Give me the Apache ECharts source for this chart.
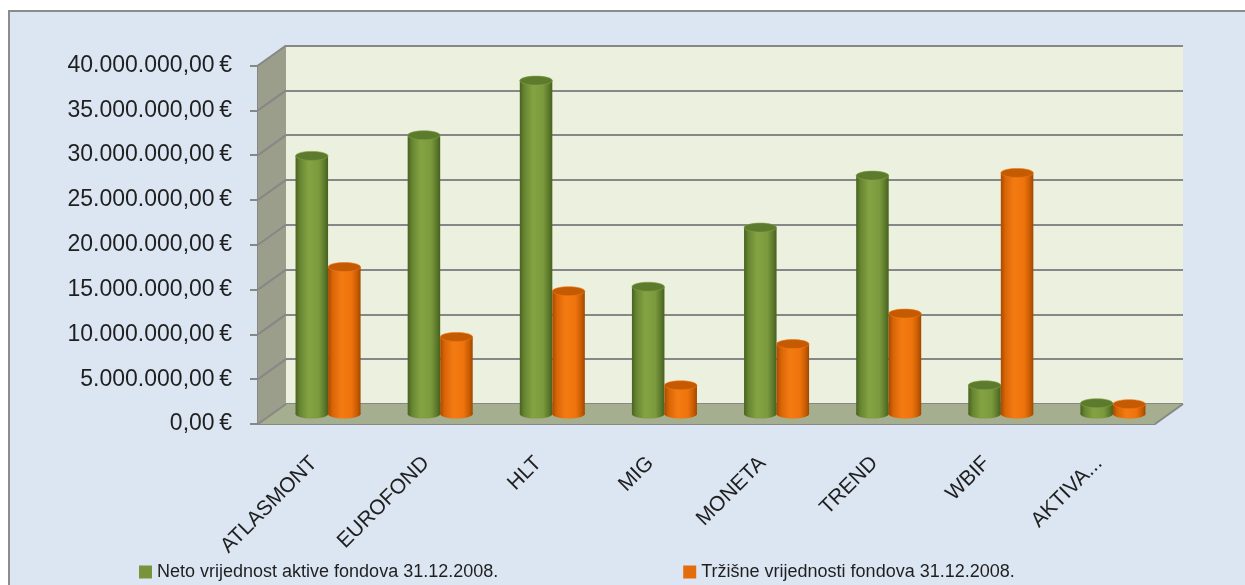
<!DOCTYPE html>
<html>
<head>
<meta charset="utf-8">
<script src="https://cdn.jsdelivr.net/npm/echarts@6/dist/echarts.min.js"></script>
<style>
  html, body { margin: 0; padding: 0; background: #fff; }
  #chart { width: 1245px; height: 585px; }
</style>
</head>
<body>
<div id="chart"></div>
<script>
// fondovi i vrijednosti (EUR) na dan 31.12.2008.
const categories = ['ATLASMONT', 'EUROFOND', 'HLT', 'MIG', 'MONETA', 'TREND', 'WBIF', 'AKTIVA...'];
const netoValues = [28.8e6, 31.1e6, 37.2e6, 14.2e6, 20.8e6, 26.6e6, 3.2e6, 1.2e6];
const trzisneValues = [16.4e6, 8.6e6, 13.7e6, 3.2e6, 7.8e6, 11.2e6, 26.9e6, 1.1e6];
const seriesNames = ['Neto vrijednost aktive fondova 31.12.2008.', 'Tržišne vrijednosti fondova 31.12.2008.'];
const yTickValues = [0, 5e6, 10e6, 15e6, 20e6, 25e6, 30e6, 35e6, 40e6];

const FONT = '"Liberation Sans", Arial, sans-serif';
const GRID_LINE = '#878787';
const DEPTH_X = 28;   // pomak zadnjeg zida
const DEPTH_Y = -20;

const palettes = [
  { legend: '#77933c', top: '#5d7b2c', body: ['#48621f', '#688632', '#83a343', '#7b9a3d', '#5a782a', '#46601e'] },
  { legend: '#e46c0a', top: '#c45a02', body: ['#a84a00', '#d96506', '#f47b12', '#ee730c', '#c65b02', '#a04600'] }
];

const fmtEur = v => {
  const s = Math.round(v).toString().replace(/\B(?=(\d{3})+(?!\d))/g, '.');
  return s + ',00\u2009€';
};

const bodyGradient = stops => new echarts.graphic.LinearGradient(0, 0, 1, 0, [
  { offset: 0, color: stops[0] },
  { offset: 0.14, color: stops[1] },
  { offset: 0.4, color: stops[2] },
  { offset: 0.72, color: stops[3] },
  { offset: 0.9, color: stops[4] },
  { offset: 1, color: stops[5] }
]);

// bocni zid, pod i dijagonale
const renderFrame = (params, api) => {
  const cs = params.coordSys;
  const x0 = cs.x, x1 = cs.x + cs.width, yb = cs.y + cs.height, yt = cs.y;
  const children = [
    {
      type: 'polygon',
      shape: { points: [[x0, yt], [x0 + DEPTH_X, yt + DEPTH_Y], [x0 + DEPTH_X, yb + DEPTH_Y], [x0, yb]] },
      style: { fill: '#9c9e8c' }
    },
    {
      type: 'polygon',
      shape: { points: [[x0, yb], [x1, yb], [x1 + DEPTH_X, yb + DEPTH_Y], [x0 + DEPTH_X, yb + DEPTH_Y]] },
      style: { fill: '#a5ae8f' }
    },
    {
      type: 'line',
      shape: { x1: x1, y1: yb, x2: x1 + DEPTH_X, y2: yb + DEPTH_Y },
      style: { stroke: GRID_LINE, lineWidth: 2 }
    }
  ];
  yTickValues.forEach(v => {
    const p = api.coord([0, v]);
    children.push({
      type: 'line',
      shape: { x1: x0, y1: p[1], x2: x0 + DEPTH_X, y2: p[1] + DEPTH_Y },
      style: { stroke: GRID_LINE, lineWidth: 2 }
    });
  });
  return { type: 'group', children };
};

// valjak za jednu vrijednost
const makeCylinder = idx => (params, api) => {
  const cat = api.value(0);
  const base = api.coord([cat, 0]);
  const top = api.coord([cat, api.value(1)]);
  const band = api.size([1, 0])[0];
  const w = band * 0.29;
  const cx = base[0] + DEPTH_X / 2 + (idx === 0 ? -w / 2 : w / 2);
  const yBase = base[1] + DEPTH_Y / 2;
  const yTop = top[1] + DEPTH_Y / 2;
  const ry = 4.5;
  const pal = palettes[idx];
  return {
    type: 'group',
    children: [
      { type: 'ellipse', shape: { cx, cy: yBase, rx: w / 2, ry }, style: { fill: bodyGradient(pal.body) } },
      { type: 'rect', shape: { x: cx - w / 2, y: yTop, width: w, height: Math.max(yBase - yTop, 0) }, style: { fill: bodyGradient(pal.body) } },
      { type: 'ellipse', shape: { cx, cy: yTop, rx: w / 2, ry }, style: { fill: pal.top, stroke: pal.body[2], lineWidth: 0.6 } }
    ]
  };
};

const chart = echarts.init(document.getElementById('chart'));

const option = {
  backgroundColor: '#ffffff',
  animation: false,
  graphic: [{
    type: 'rect',
    z: -10,
    silent: true,
    shape: { x: 9, y: 11, width: 1300, height: 700 },
    style: { fill: '#dce6f2', stroke: '#8c8c8c', lineWidth: 2 }
  }],
  legend: {
    data: seriesNames,
    left: 134,
    top: 558,
    icon: 'rect',
    itemWidth: 13,
    itemHeight: 13,
    itemGap: 185,
    textStyle: { fontFamily: FONT, fontSize: 18, color: '#1f1f1f' }
  },
  grid: [
    { left: 258, top: 65.5, width: 897, height: 358.5 },
    { left: 286, top: 45.5, width: 897, height: 358.5, show: true, backgroundColor: '#ebf1de', borderWidth: 0 }
  ],
  xAxis: [
    {
      type: 'category', gridIndex: 0, data: categories,
      axisLine: { lineStyle: { color: GRID_LINE, width: 2 } },
      axisTick: { length: 8, lineStyle: { color: GRID_LINE, width: 2 } },
      axisLabel: { rotate: 45, margin: 36, fontFamily: FONT, fontSize: 21, color: '#1f1f1f', interval: 0 }
    },
    { type: 'category', gridIndex: 1, data: categories, show: false }
  ],
  yAxis: [
    {
      type: 'value', gridIndex: 0, min: 0, max: 40e6, interval: 5e6,
      axisLine: { show: true, lineStyle: { color: GRID_LINE, width: 2 } },
      axisTick: { show: true, length: 8, lineStyle: { color: GRID_LINE, width: 2 } },
      splitLine: { show: false },
      axisLabel: { margin: 26, formatter: fmtEur, fontFamily: FONT, fontSize: 23, color: '#1f1f1f' }
    },
    {
      type: 'value', gridIndex: 1, min: 0, max: 40e6, interval: 5e6,
      axisLine: { show: false }, axisTick: { show: false }, axisLabel: { show: false },
      splitLine: { show: true, lineStyle: { color: GRID_LINE, width: 2 } }
    }
  ],
  series: [
    {
      type: 'custom', name: 'frame', xAxisIndex: 0, yAxisIndex: 0, z: 1, silent: true,
      renderItem: renderFrame, data: [[0, 0]]
    },
    {
      type: 'custom', name: seriesNames[0], xAxisIndex: 0, yAxisIndex: 0, z: 5,
      itemStyle: { color: palettes[0].legend },
      renderItem: makeCylinder(0),
      data: netoValues.map((v, i) => [i, v])
    },
    {
      type: 'custom', name: seriesNames[1], xAxisIndex: 0, yAxisIndex: 0, z: 6,
      itemStyle: { color: palettes[1].legend },
      renderItem: makeCylinder(1),
      data: trzisneValues.map((v, i) => [i, v])
    }
  ]
};

chart.setOption(option);
window.addEventListener('resize', () => chart.resize());
</script>
</body>
</html>
